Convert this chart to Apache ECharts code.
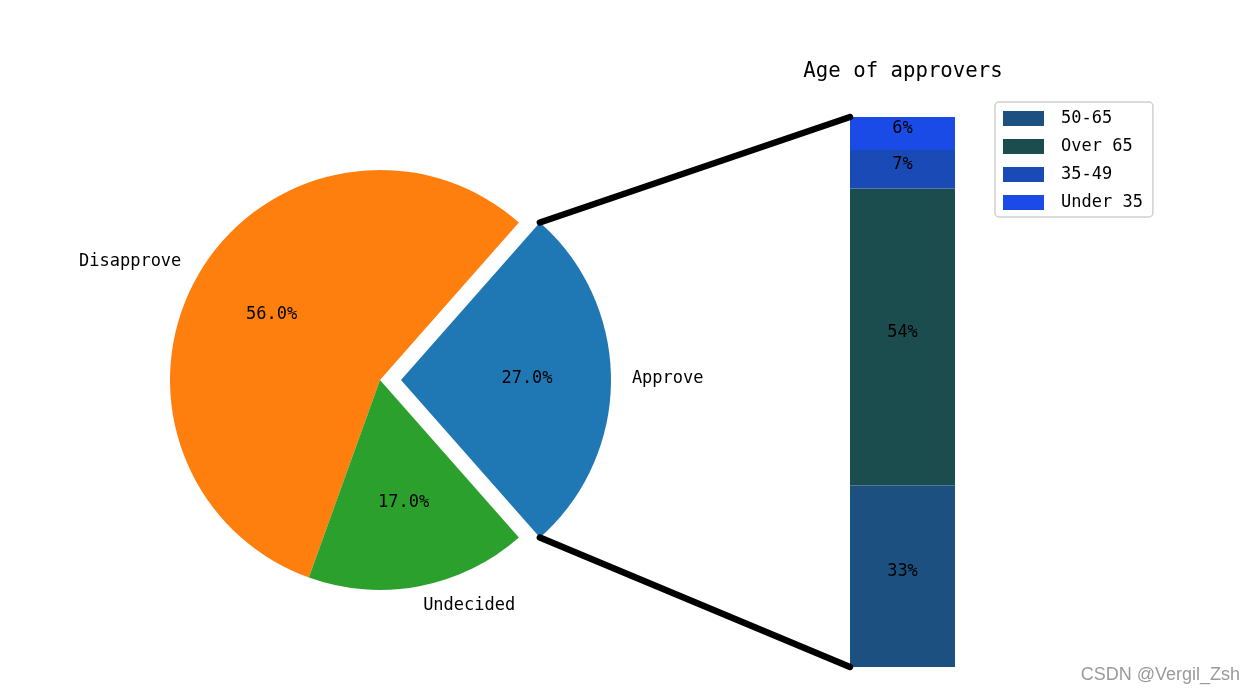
<!DOCTYPE html>
<html>
<head>
<meta charset="utf-8">
<script src="https://cdn.jsdelivr.net/npm/echarts@6/dist/echarts.min.js"></script>
<style>html,body{margin:0;padding:0;background:#fff}#c{width:1258px;height:694px}</style>
</head>
<body>
<div id="c"></div>
<script>
// ---- data ----
const pieLabels = ['Approve', 'Disapprove', 'Undecided'];
const pieValues = [27, 56, 17];
const pieExplode = [0.1, 0, 0];
const ageLabels = ['50-65', 'Over 65', '35-49', 'Under 35'];
const ageValues = [33, 54, 7, 6];
const ageColors = ['#1c5081', '#1b4d4e', '#1a4ab5', '#1a4be6'];
const pieColors = ['#1f77b4', '#ff7f0e', '#2ca02c'];

const FONT = '"DejaVu Sans Mono", monospace';
const FS = 17;
const cx = 380, cy = 380, R = 210;
const total = pieValues.reduce((a, b) => a + b, 0);
const startDeg = -180 * pieValues[0] / total; // matplotlib-style start angle

// mid-angles (degrees, counterclockwise from 3 o'clock)
const midDeg = [];
(function () {
  let a = startDeg;
  pieValues.forEach(v => { const s = 360 * v / total; midDeg.push(a + s / 2); a += s; });
})();

function labelOffset(i, dist, align) {
  const t = midDeg[i] * Math.PI / 180;
  const ex = pieExplode[i] * R;
  let x = (dist * R + ex) * Math.cos(t);
  let y = -(dist * R + ex) * Math.sin(t);
  if (align) {
    const w = pieLabels[i].length * 0.6 * FS;
    x += (Math.cos(t) > 0 ? 1 : -1) * w / 2;
  }
  return [x, y - 1];
}

const chart = echarts.init(document.getElementById('c'), null, {renderer: 'canvas'});

const series = [
  {
    type: 'pie', center: [cx, cy], radius: R, startAngle: startDeg, clockwise: false,
    selectedMode: 'multiple', selectedOffset: pieExplode[0] * R, silent: true,
    avoidLabelOverlap: false,
    data: pieLabels.map((n, i) => ({name: n, value: pieValues[i], selected: pieExplode[i] > 0})),
    color: pieColors, label: {show: false}, labelLine: {show: false},
    emphasis: {disabled: true}, animation: false
  },
  {
    type: 'pie', center: [cx, cy], radius: R, startAngle: startDeg, clockwise: false,
    silent: true, avoidLabelOverlap: false, z: 5,
    data: pieLabels.map((n, i) => ({name: n, value: pieValues[i],
      label: {offset: labelOffset(i, 0.6, false)}})),
    itemStyle: {color: 'rgba(0,0,0,0)'},
    label: {show: true, position: 'center', color: '#000', fontFamily: FONT, fontSize: FS,
      formatter: p => (p.value / total * 100).toFixed(1) + '%'},
    labelLine: {show: false}, emphasis: {disabled: true}, animation: false
  },
  {
    type: 'pie', center: [cx, cy], radius: R, startAngle: startDeg, clockwise: false,
    silent: true, avoidLabelOverlap: false, z: 5,
    data: pieLabels.map((n, i) => ({name: n, value: pieValues[i],
      label: {offset: labelOffset(i, 1.1, true)}})),
    itemStyle: {color: 'rgba(0,0,0,0)'},
    label: {show: true, position: 'center', color: '#000', fontFamily: FONT, fontSize: FS,
      formatter: p => p.name},
    labelLine: {show: false}, emphasis: {disabled: true}, animation: false
  }
];

ageLabels.forEach((n, i) => {
  series.push({
    type: 'bar', name: n, stack: 'age', xAxisIndex: 0, yAxisIndex: 0,
    data: [ageValues[i]], barWidth: '100%', itemStyle: {color: ageColors[i]},
    label: {show: true, position: 'inside', color: '#000', fontFamily: FONT, fontSize: FS,
      offset: [0, -4.5], formatter: p => p.value + '%'},
    emphasis: {disabled: true}, animation: false
  });
});

const option = {
  animation: false,
  backgroundColor: '#fff',
  title: [
    {text: 'Age of approvers', left: 898, top: 56, textAlign: 'center',
      textStyle: {fontFamily: FONT, fontSize: 20.7, fontWeight: 'normal', color: '#000'}},
    {text: 'CSDN @Vergil_Zsh', right: 13, top: 661,
      textStyle: {fontFamily: '"Liberation Sans", Arial, sans-serif', fontSize: 18, fontWeight: 'normal', color: '#9a9a9a'}}
  ],
  legend: {
    data: ageLabels, orient: 'vertical', left: 995, top: 102,
    padding: [8, 10, 6, 8], itemGap: 11, itemWidth: 41, itemHeight: 15,
    borderColor: '#d0d0d0', borderWidth: 1.5, borderRadius: 4,
    textStyle: {fontFamily: FONT, fontSize: FS, color: '#000', padding: [0, 0, 0, 12]},
    icon: 'rect', selectedMode: false
  },
  grid: {left: 850, width: 105, top: 117, height: 550},
  xAxis: {type: 'category', data: [''], show: false},
  yAxis: {type: 'value', min: 0, max: 100, show: false},
  series: series
};

chart.setOption(option);

// connection lines from exploded wedge edges to bar corners
const theta = Math.PI * pieValues[0] / total; // half-angle of Approve wedge
const ex = cx + pieExplode[0] * R + R * Math.cos(theta);
const eyTop = cy - R * Math.sin(theta);
const eyBot = cy + R * Math.sin(theta);
const gridRect = chart.getModel().getComponent('grid').coordinateSystem.getRect();
const barLeft = gridRect.x;
const yTop = chart.convertToPixel({yAxisIndex: 0}, ageValues.reduce((a, b) => a + b, 0));
const yBot = chart.convertToPixel({yAxisIndex: 0}, 0);
chart.setOption({
  graphic: [
    {type: 'line', shape: {x1: ex, y1: eyTop, x2: barLeft, y2: yTop},
      style: {stroke: '#000', lineWidth: 6.5, lineCap: 'round'}, z: 100},
    {type: 'line', shape: {x1: ex, y1: eyBot, x2: barLeft, y2: yBot},
      style: {stroke: '#000', lineWidth: 6.5, lineCap: 'round'}, z: 100}
  ]
});
</script>
</body>
</html>
